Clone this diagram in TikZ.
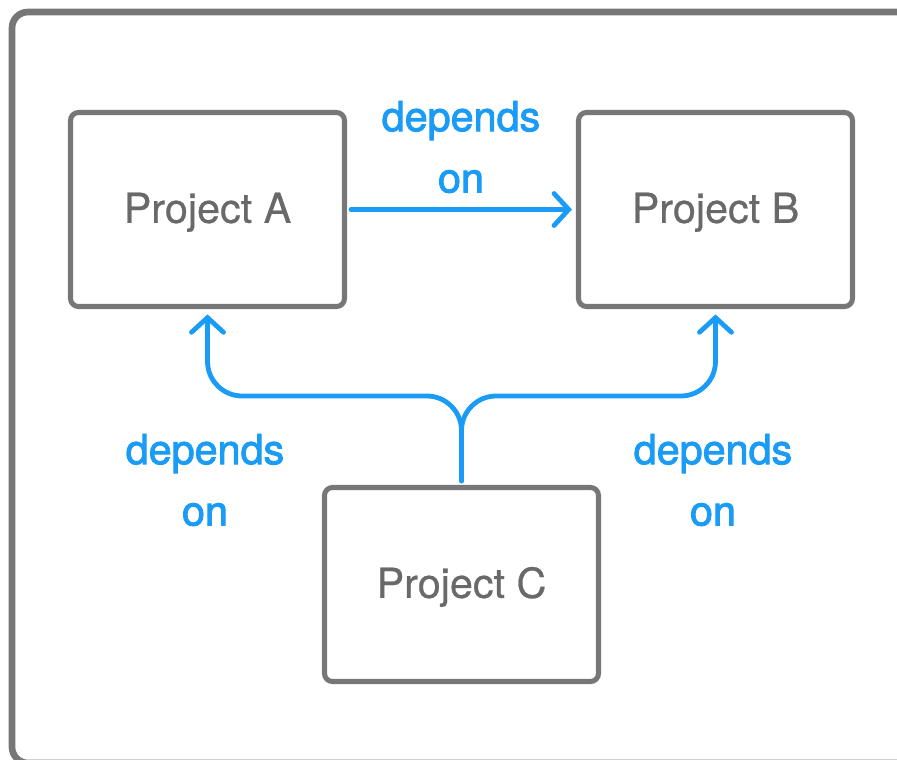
\documentclass[tikz,border=0pt]{standalone}
\usepackage{fontspec}
\setmainfont{TeX Gyre Heros}[FakeBold=0.6]
\newfontfamily\depfont[FakeBold=2.2]{TeX Gyre Heros}
\usepackage{xcolor}
\usepackage{tikz}
\usetikzlibrary{arrows.meta}

\definecolor{boxgray}{HTML}{777777}
\definecolor{textgray}{HTML}{696969}
\definecolor{depblue}{HTML}{1A9BF5}

\begin{document}
\begin{tikzpicture}[x=0.75pt,y=-0.75pt,
    project/.style={draw=boxgray,line width=3.8pt,rounded corners=6pt,
        minimum width=205.5pt,minimum height=145.5pt,text height=20pt,text depth=0pt,
        text=textgray,font=\fontsize{31}{34}\selectfont},
    dep/.style={draw=depblue,line width=3.6pt,line cap=round,rounded corners=26pt,
        -{Straight Barb[length=11pt,width=24pt,line cap=round]}},
    lbl/.style={text=depblue,align=center,font=\depfont\fontsize{31}{46}\selectfont}]
    \clip (0,0) rectangle (897,760);
    \draw[boxgray,line width=5pt,rounded corners=12pt] (12,12) rectangle (940,763);
    % the three projects
    \node[project] (A) at (207.5,209.5) {Project A};
    \node[project] (B) at (715.5,209.5) {Project B};
    \node[project] (C) at (461.5,584.5) {Project C};
    % dependencies
    \draw[dep,rounded corners=0pt,shorten <=3pt,shorten >=3pt] (A.east) -- (B.west);
    \coordinate (split) at (461.5,396);
    \draw[dep,shorten <=3pt,shorten >=4pt] (C.north) -- (split) -| (A.south);
    \draw[dep,shorten <=3pt,shorten >=4pt] (C.north) -- (split) -| (B.south);
    \node[lbl] (lab) at (461,147) {depends\\on};
    \node[lbl] (lac) at (205,480) {depends\\on};
    \node[lbl] (lbc) at (713,480) {depends\\on};
\end{tikzpicture}
\end{document}
